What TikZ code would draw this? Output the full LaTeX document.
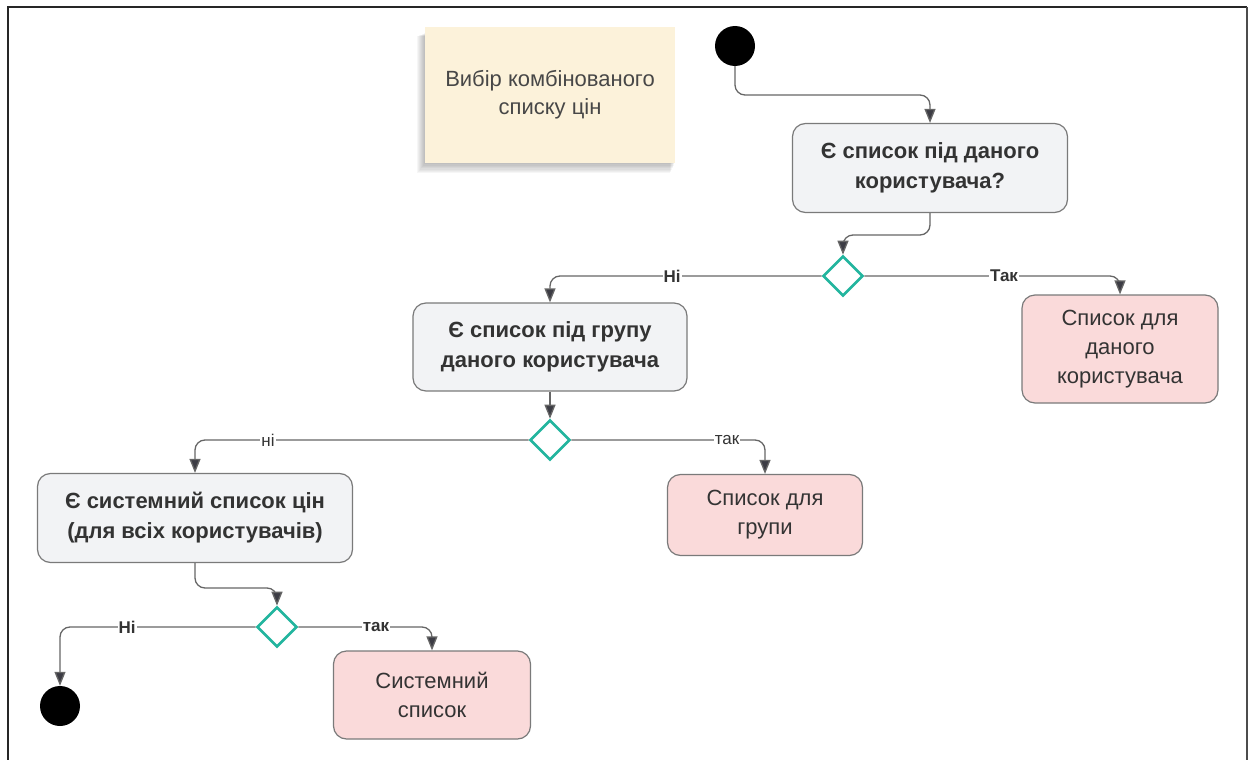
\documentclass[tikz,border=0pt]{standalone}
\usepackage{fontspec}
\setmainfont{Liberation Sans}
\usetikzlibrary{arrows.meta,shapes.geometric}

\definecolor{txt}{HTML}{333333}
\definecolor{edgegray}{HTML}{7A7A7A}
\definecolor{flowgray}{HTML}{666666}
\definecolor{tipgray}{HTML}{3C3C44}
\definecolor{actfill}{HTML}{F2F3F5}
\definecolor{resfill}{HTML}{FADADA}
\definecolor{notefill}{HTML}{FCF2DA}
\definecolor{decteal}{HTML}{22B59E}

\tikzset{
  act/.style={draw=edgegray, fill=actfill, rounded corners=13pt, line width=1.2pt,
    text=txt, align=center, inner sep=0pt,
    font=\bfseries\fontsize{22}{30}\selectfont},
  res/.style={draw=edgegray, fill=resfill, rounded corners=13pt, line width=1.2pt,
    text=txt, align=center, inner sep=0pt,
    font=\fontsize{22}{29}\selectfont},
  dec/.style={diamond, draw=decteal, fill=white, line width=2.6pt,
    minimum width=40pt, minimum height=40pt, inner sep=0pt},
  dot/.style={circle, fill=black, minimum size=40pt, inner sep=0pt},
  flow/.style={draw=flowgray, line width=1.3pt, rounded corners=10pt,
    -{Triangle[length=14pt,width=11pt,fill=tipgray]}},
  lab/.style={fill=white, inner sep=1pt, text=txt, font=\fontsize{17}{19}\selectfont},
  blab/.style={lab, font=\bfseries\fontsize{17}{19}\selectfont},
}

\begin{document}
\begin{tikzpicture}[x=1pt, y=-1pt]
  \useasboundingbox (0,0) rectangle (1248,760);

  % outer frame, open at the bottom
  \draw[line width=2.6pt, black!85] (8,760) -- (8,7) -- (1247,7);
  \draw[line width=1.6pt, black!70] (1247,7) -- (1247,760);

  % sticky note with a soft shadow
  \foreach \k in {1,...,8}
    \fill[black, opacity=0.035] (425-\k*1.0,33+\k*0.4) rectangle (675-\k*0.6,163+\k*1.3);
  \node[fill=notefill, minimum width=250pt, minimum height=136pt, inner sep=0pt,
        text=txt!90, align=center, font=\fontsize{22}{28}\selectfont]
        (note) at (550,95) {Вибір комбінованого\\списку цін};

  % start and end points
  \node[dot] (start) at (735,46) {};
  \node[dot] (stop) at (60,706) {};

  % activities
  \node[act, minimum width=275pt, minimum height=89pt] (q1) at (930,168)
       {Є список під даного\\користувача?};
  \node[act, minimum width=274pt, minimum height=88pt] (q2) at (550,347)
       {Є список під групу\\даного користувача};
  \node[act, minimum width=315pt, minimum height=89pt] (q3) at (195,518)
       {Є системний список цін\\(для всіх користувачів)};

  % results
  \node[res, minimum width=196pt, minimum height=108pt] (r1) at (1120,349)
       {Список для\\даного\\користувача};
  \node[res, minimum width=195pt, minimum height=81pt] (r2) at (765,515)
       {Список для\\групи};
  \node[res, minimum width=197pt, minimum height=88pt] (r3) at (432,695)
       {Системний\\список};

  % decisions
  \node[dec] (d1) at (843,276) {};
  \node[dec] (d2) at (550,440) {};
  \node[dec] (d3) at (277,627) {};

  % bend levels of the connectors
  \coordinate (b0) at (0,95);
  \coordinate (b1) at (0,235);
  \coordinate (b3) at (0,588);

  % connectors
  \draw[flow] (start.south) -- (start.south |- b0) -- (q1.north |- b0) -- (q1.north);
  \draw[flow] (q1.south) -- (q1.south |- b1) -- (d1.north |- b1) -- (d1.north);
  \draw[flow] (d1.west) -- (q2.north |- d1.west) -- (q2.north);
  \draw[flow] (d1.east) -- (r1.north |- d1.east) -- (r1.north);
  \draw[flow] (q2.south) -- (d2.north);
  \draw[flow] (d2.west) -- (q3.north |- d2.west) -- (q3.north);
  \draw[flow] (d2.east) -- (r2.north |- d2.east) -- (r2.north);
  \draw[flow] (q3.south) -- (q3.south |- b3) -- (d3.north |- b3) -- (d3.north);
  \draw[flow] (d3.west) -- (stop.north |- d3.west) -- (stop.north);
  \draw[flow] (d3.east) -- (r3.north |- d3.east) -- (r3.north);

  % branch labels
  \node[blab] (l1) at (672,276) {Ні};
  \node[blab] (l2) at (1004,276) {Так};
  \node[lab]  (l3) at (268,440) {ні};
  \node[lab]  (l4) at (727,440) {так};
  \node[blab] (l5) at (127,627) {Ні};
  \node[blab] (l6) at (376,627) {так};
\end{tikzpicture}
\end{document}
